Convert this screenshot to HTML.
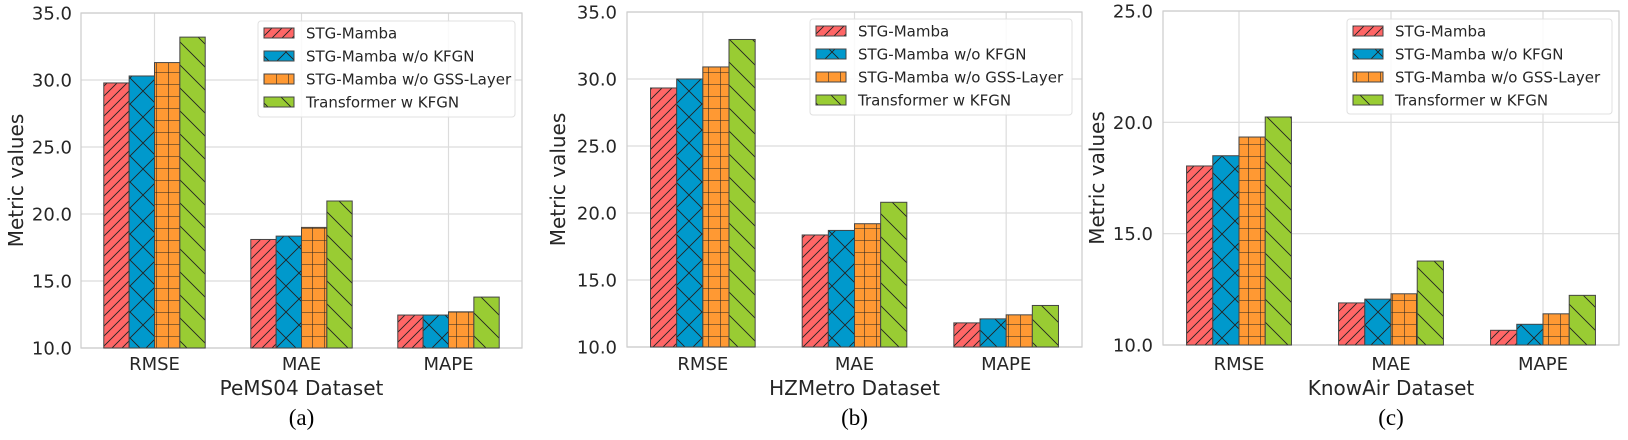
<!DOCTYPE html>
<html><head><meta charset="utf-8"><style>
html,body{margin:0;padding:0;background:#fff;}
svg{display:block;font-family:"DejaVu Sans","Liberation Sans",sans-serif;}
</style></head><body>
<svg id="fig" width="1628" height="440" viewBox="0 0 1628 440" xmlns="http://www.w3.org/2000/svg">
<defs>
<pattern id="h-red" patternUnits="userSpaceOnUse" width="10" height="10"><rect width="10" height="10" fill="#ff6666"/><path d="M-2,2 L2,-2 M0,10 L10,0 M8,12 L12,8" stroke="#222" stroke-width="0.9"/></pattern>
<pattern id="h-blue" patternUnits="userSpaceOnUse" width="26" height="26"><rect width="26" height="26" fill="#0099cc"/><path d="M0,0 L26,26 M0,26 L26,0" stroke="#222" stroke-width="0.9"/></pattern>
<pattern id="h-orange" patternUnits="userSpaceOnUse" width="12" height="12"><rect width="12" height="12" fill="#ff9933"/><path d="M0,0 L12,0 M0,0 L0,12" stroke="#222" stroke-width="1.1"/></pattern>
<pattern id="h-green" patternUnits="userSpaceOnUse" width="23" height="23"><rect width="23" height="23" fill="#99cc33"/><path d="M-2,-2 L25,25 M-2,21 L2,25 M21,-2 L25,2" stroke="#222" stroke-width="0.9"/></pattern>
</defs>
</svg>
<script>
const categories = ["RMSE", "MAE", "MAPE"];
const seriesNames = ["STG-Mamba", "STG-Mamba w/o KFGN", "STG-Mamba w/o GSS-Layer", "Transformer w KFGN"];
const pemsRMSE = [29.78, 30.3, 31.3, 33.2];
const pemsMAE = [18.1, 18.35, 19.0, 20.97];
const pemsMAPE = [12.46, 12.46, 12.7, 13.8];
const hzRMSE = [29.33, 30.0, 30.9, 32.95];
const hzMAE = [18.36, 18.7, 19.2, 20.8];
const hzMAPE = [11.8, 12.1, 12.4, 13.1];
const airRMSE = [18.04, 18.5, 19.34, 20.24];
const airMAE = [11.89, 12.06, 12.3, 13.77];
const airMAPE = [10.66, 10.93, 11.4, 12.23];
const ticksA = [10, 15, 20, 25, 30, 35];
const ticksC = [10, 15, 20, 25];
const titles = ["PeMS04 Dataset", "HZMetro Dataset", "KnowAir Dataset"];
const subLabels = ["(a)", "(b)", "(c)"];

const fills = ["url(#h-red)", "url(#h-blue)", "url(#h-orange)", "url(#h-green)"];
const NS = "http://www.w3.org/2000/svg";
const svg = document.getElementById("fig");
function mk(tag, attrs, parent) {
  const e = document.createElementNS(NS, tag);
  for (const k in attrs) e.setAttribute(k, attrs[k]);
  (parent || svg).appendChild(e);
  return e;
}
const panels = [
  {x0: 81, x1: 522, yTop: 13, yBot: 348, ticks: ticksA, data: [pemsRMSE, pemsMAE, pemsMAPE], tickRight: 72, ylabX: 16, leg: {x: 258, y: 21, w: 257, h: 96}, key: "pems"},
  {x0: 627, x1: 1082, yTop: 12, yBot: 347, ticks: ticksA, data: [hzRMSE, hzMAE, hzMAPE], tickRight: 617, ylabX: 558, leg: {x: 810, y: 19, w: 262, h: 96}, key: "hzmetro"},
  {x0: 1163, x1: 1619, yTop: 11, yBot: 345, ticks: ticksC, data: [airRMSE, airMAE, airMAPE], tickRight: 1153, ylabX: 1097, leg: {x: 1347, y: 19, w: 265, h: 95}, key: "knowair"}
];
panels.forEach((p, pi) => {
  const g = mk("g", {});
  
  
  const vmin = p.ticks[0], vmax = p.ticks[p.ticks.length - 1];
  const yS = v => p.yBot - (v - vmin) / (vmax - vmin) * (p.yBot - p.yTop);
  const catW = (p.x1 - p.x0) / categories.length;
  const xC = i => p.x0 + (i + 0.5) * catW;
  const barW = catW * 0.69 / 4;
  p.ticks.forEach(t => {
    const l = mk("line", {x1: p.x0, x2: p.x1, y1: yS(t), y2: yS(t), stroke: "#dcdcdc", "stroke-width": 1.2}, g);
    
    
    const tx = mk("text", {x: p.tickRight, y: yS(t) + 6.5, "text-anchor": "end", "font-size": 18, fill: "#262626"}, g);
    tx.textContent = t.toFixed(1);
    
    
  });
  categories.forEach((c, i) => {
    const l = mk("line", {x1: xC(i), x2: xC(i), y1: p.yTop, y2: p.yBot, stroke: "#dcdcdc", "stroke-width": 1.2}, g);
    
    
  });
  const fr = mk("rect", {x: p.x0, y: p.yTop, width: p.x1 - p.x0, height: p.yBot - p.yTop, fill: "none", stroke: "#cccccc", "stroke-width": 1.2}, g);
  
  
  categories.forEach((c, i) => {
    p.data[i].forEach((v, s) => {
      const bx = xC(i) - 2 * barW + s * barW;
      const r = mk("rect", {x: bx, y: yS(v), width: barW, height: p.yBot - yS(v), fill: fills[s], stroke: "#444", "stroke-width": 1}, g);
      
      
    });
    const tl = mk("text", {x: xC(i), y: 370, "text-anchor": "middle", "font-size": 18, fill: "#262626"}, g);
    tl.textContent = c;
    
    
  });
  const cx = (p.x0 + p.x1) / 2;
  const tt = mk("text", {x: cx, y: 395, "text-anchor": "middle", "font-size": 20, fill: "#262626"}, g);
  tt.textContent = titles[pi];
  
  
  const sl = mk("text", {x: cx, y: 425, "text-anchor": "middle", "font-size": 23, fill: "#000", "font-family": "Liberation Serif, serif"}, g);
  sl.textContent = subLabels[pi];
  
  
  const ymid = (p.yTop + p.yBot) / 2;
  const yl = mk("text", {x: p.ylabX, y: ymid, "text-anchor": "middle", "font-size": 20, fill: "#262626", transform: "rotate(-90 " + p.ylabX + " " + ymid + ")", dy: 7}, g);
  yl.textContent = "Metric values";
  
  
  const lg = mk("g", {}, g);
  
  
  mk("rect", {x: p.leg.x, y: p.leg.y, width: p.leg.w, height: p.leg.h, rx: 3, fill: "#fff", "fill-opacity": 0.85, stroke: "#e0e0e0"}, lg);
  seriesNames.forEach((n, s) => {
    const ry = p.leg.y + 12 + s * 23;
    const e = mk("g", {}, lg);
    
    
    mk("rect", {x: p.leg.x + 6, y: ry - 5, width: 30, height: 10, fill: fills[s], stroke: "#444", "stroke-width": 1}, e);
    const t = mk("text", {x: p.leg.x + 48, y: ry + 5.5, "font-size": 15, fill: "#262626"}, e);
    t.textContent = n;
  });
});
</script>
</body></html>
